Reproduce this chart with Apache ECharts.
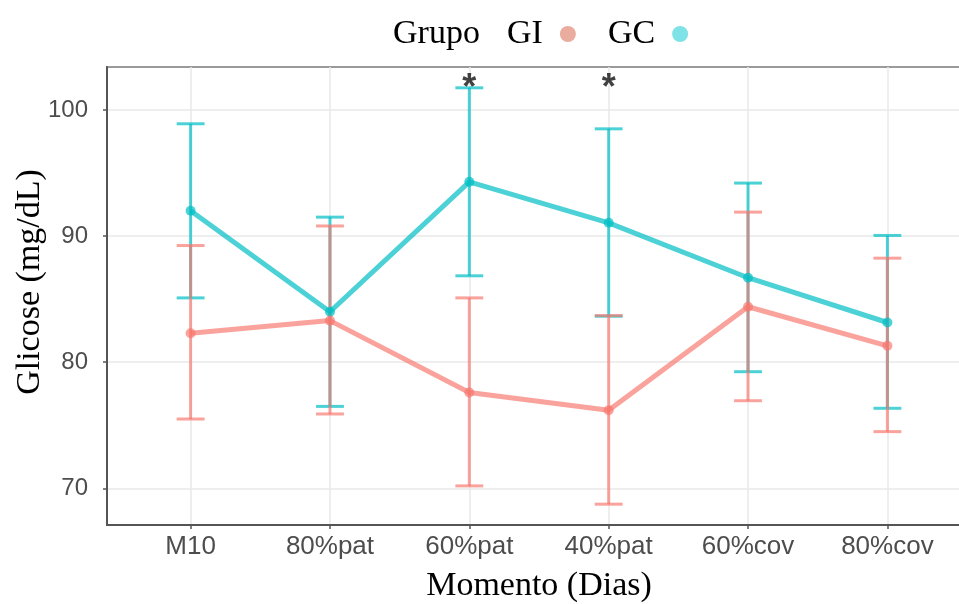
<!DOCTYPE html>
<html>
<head>
<meta charset="utf-8">
<script src="https://cdn.jsdelivr.net/npm/echarts@6/dist/echarts.min.js"></script>
<style>
  html, body { margin: 0; padding: 0; background: #ffffff; }
  #chart { width: 959px; height: 604px; }
</style>
</head>
<body>
<div id="chart"></div>
<script>
// Glucose by moment, two groups: mean with error bars
const categories = ['M10', '80%pat', '60%pat', '40%pat', '60%cov', '80%cov'];
const giMean = [82.3, 83.3, 77.6, 76.2, 84.4, 81.3];
const giLow  = [75.5, 75.9, 70.2, 68.75, 76.95, 74.5];
const giHigh = [89.25, 90.8, 85.1, 83.7, 91.9, 88.25];
const gcMean = [92.0, 84.0, 94.3, 91.05, 86.7, 83.15];
const gcLow  = [85.1, 76.5, 86.85, 83.65, 79.25, 76.35];
const gcHigh = [98.9, 91.5, 101.75, 98.5, 94.2, 90.05];
const yTicks = [70, 80, 90, 100];
const signifMarks = ['', '', '*', '*', '', ''];
const signifY = 102.3;

const GI_COLOR = 'rgba(248, 118, 109, 0.68)';
const GC_COLOR = 'rgba(0, 191, 196, 0.70)';

// y range padded by 5% around the error bars
const allVals = giLow.concat(giHigh, gcLow, gcHigh);
const yLo = Math.min.apply(null, allVals);
const yHi = Math.max.apply(null, allVals);
const yPad = (yHi - yLo) * 0.05;

const idx = categories.map((_, i) => i);

function errorBarSeries(name, low, high, color) {
  return {
    name: name,
    type: 'custom',
    data: idx.map(i => [i, low[i], high[i]]),
    z: 3,
    silent: true,
    renderItem: function (params, api) {
      const x = api.value(0);
      const lo = api.value(1);
      const hi = api.value(2);
      const half = 0.1;
      const pTop = api.coord([x, hi]);
      const pBot = api.coord([x, lo]);
      const tl = api.coord([x - half, hi]);
      const tr = api.coord([x + half, hi]);
      const bl = api.coord([x - half, lo]);
      const br = api.coord([x + half, lo]);
      const style = { stroke: color, lineWidth: 3, fill: null };
      return {
        type: 'group',
        children: [
          { type: 'line', shape: { x1: pTop[0], y1: pTop[1], x2: pBot[0], y2: pBot[1] }, style: style },
          { type: 'line', shape: { x1: tl[0], y1: tl[1], x2: tr[0], y2: tr[1] }, style: style },
          { type: 'line', shape: { x1: bl[0], y1: bl[1], x2: br[0], y2: br[1] }, style: style }
        ]
      };
    }
  };
}

function meanSeries(name, mean, color) {
  return {
    name: name,
    type: 'line',
    data: idx.map(i => [i, mean[i]]),
    symbol: 'circle',
    symbolSize: 10,
    showSymbol: true,
    z: 4,
    lineStyle: { color: color, width: 5 },
    itemStyle: { color: color },
    emphasis: { disabled: true }
  };
}

const chart = echarts.init(document.getElementById('chart'), null, { renderer: 'canvas' });

chart.setOption({
  animation: false,
  backgroundColor: '#ffffff',
  title: {
    text: 'Grupo',
    left: 388,
    top: 12,
    textStyle: { fontFamily: 'Liberation Serif', fontSize: 34, fontWeight: 'normal', color: '#000000' }
  },
  legend: {
    left: 502,
    top: 12,
    align: 'right',
    itemWidth: 40,
    itemHeight: 16,
    itemGap: 32,
    textStyle: { fontFamily: 'Liberation Serif', fontSize: 34, color: '#000000' },
    data: [
      { name: 'GI', icon: 'circle', itemStyle: { color: 'rgba(233, 172, 158, 1)' } },
      { name: 'GC', icon: 'circle', itemStyle: { color: 'rgba(126, 226, 230, 1)' } }
    ],
    selectedMode: false
  },
  grid: {
    left: 107,
    right: -12,
    top: 67,
    bottom: 79,
    show: true,
    borderColor: '#9a9a9a',
    borderWidth: 2,
    outerBoundsMode: 'none'
  },
  xAxis: {
    type: 'value',
    min: -0.6,
    max: 5.6,
    name: 'Momento (Dias)',
    nameLocation: 'middle',
    nameGap: 44,
    nameMoveOverlap: false,
    nameTextStyle: { fontFamily: 'Liberation Serif', fontSize: 34, color: '#000000' },
    axisLine: { show: true, onZero: false, lineStyle: { color: '#555555', width: 2 } },
    axisTick: { show: true, length: 4, customValues: idx, lineStyle: { color: '#555555', width: 1.5 } },
    axisLabel: {
      customValues: idx,
      margin: 9,
      fontFamily: 'Liberation Sans',
      fontSize: 26,
      color: '#4d4d4d',
      formatter: v => categories[Math.round(v)]
    },
    splitLine: { show: true, lineStyle: { color: '#e8e8e8', width: 1.5 } }
  },
  yAxis: {
    type: 'value',
    min: yLo - yPad,
    max: yHi + yPad,
    name: 'Glicose (mg/dL)',
    nameLocation: 'middle',
    nameGap: 60,
    nameMoveOverlap: false,
    nameTextStyle: { fontFamily: 'Liberation Serif', fontSize: 34, color: '#000000', padding: [0, 0, 0, 28] },
    axisLine: { show: true, onZero: false, lineStyle: { color: '#555555', width: 2 } },
    axisTick: { show: true, length: 4, customValues: yTicks, lineStyle: { color: '#555555', width: 1.5 } },
    axisLabel: {
      customValues: yTicks,
      margin: 19,
      fontFamily: 'Liberation Sans',
      fontSize: 24,
      color: '#4d4d4d'
    },
    splitLine: { show: true, lineStyle: { color: '#e8e8e8', width: 1.5 } }
  },
  series: [
    errorBarSeries('GC', gcLow, gcHigh, GC_COLOR),
    errorBarSeries('GI', giLow, giHigh, GI_COLOR),
    meanSeries('GC', gcMean, GC_COLOR),
    meanSeries('GI', giMean, GI_COLOR),
    {
      name: 'signif',
      type: 'scatter',
      symbolSize: 1,
      itemStyle: { color: 'rgba(0,0,0,0)' },
      silent: true,
      z: 5,
      data: idx.filter(i => signifMarks[i]).map(i => [i, signifY, signifMarks[i]]),
      label: {
        show: true,
        position: 'inside',
        formatter: p => p.data[2],
        fontFamily: 'Liberation Sans',
        fontWeight: 'bold',
        fontSize: 36,
        color: '#111111',
        offset: [0, 8]
      }
    }
  ]
});
</script>
</body>
</html>
